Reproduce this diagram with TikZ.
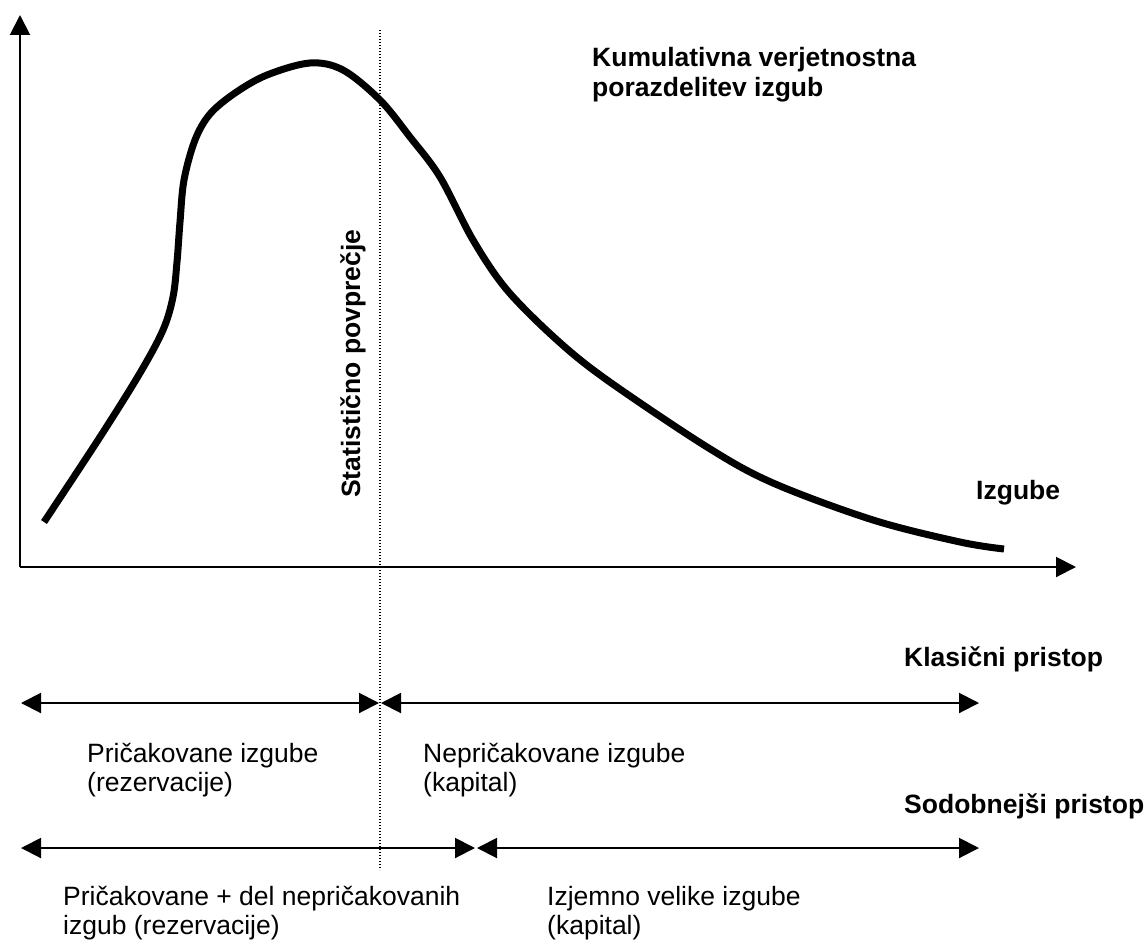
\documentclass[tikz,border=0pt]{standalone}
\usepackage{fontspec}
\setmainfont{Liberation Sans}
\usetikzlibrary{arrows.meta}
\begin{document}
\begin{tikzpicture}[x=1pt,y=-1pt,
  lbl/.style={inner sep=0pt,anchor=base west,align=left,font=\fontsize{26.5}{29.5}\selectfont},
  blbl/.style={lbl,font=\fontsize{26.5}{30}\selectfont\bfseries},
  axis/.style={line width=2pt,-{Triangle[length=20pt,width=20pt]}},
  span/.style={line width=2pt,{Triangle[length=20pt,width=20pt]}-{Triangle[length=20pt,width=20pt]}},
  curve/.style={line width=7pt,line join=round},
  meanline/.style={line width=1.3pt,dash pattern=on 1.2pt off 1.8pt}]
\useasboundingbox (0,0) rectangle (1147,939);
% axes
\coordinate (O) at (20,567);
\coordinate (ytip) at (20,15);
\coordinate (xtip) at (1076,567);
\draw[axis] (O) -- (ytip);
\draw[axis] (O) -- (xtip);
% mean line
\coordinate (mtop) at (380,30);
\coordinate (mbot) at (380,870);
\draw[meanline] (mtop) -- (mbot);
% distribution curve
\draw[curve] plot[smooth,tension=0.55] coordinates {
 (44,522) (100,437) (140,373) (163,330) (173,297) (177,262) (180,222) (184,180)
 (195,140) (210,114) (235,93) (267,75) (310,63) (343,70) (380,100) (410,137)
 (440,177) (473,240) (507,290) (557,340) (607,380) (707,447) (773,483) (873,520)
 (960,542) (1004,549)};
% texts (base anchor of a two-line node = baseline of its last line)
\node[blbl] (title) at (592,97) {Kumulativna verjetnostna\\porazdelitev izgub};
\node[blbl] (izg) at (976,499) {Izgube};
\node[blbl,rotate=90] (mean) at (360,498) {Statistično povprečje};
\node[blbl] (klas) at (904,666) {Klasični pristop};
\node[blbl] (sod) at (904,813) {Sodobnejši pristop};
\node[lbl] (e1) at (87,791.5) {Pričakovane izgube\\(rezervacije)};
\node[lbl] (u1) at (423,791.5) {Nepričakovane izgube\\(kapital)};
\node[lbl] (e2) at (63,934.5) {Pričakovane + del nepričakovanih\\izgub (rezervacije)};
\node[lbl] (u2) at (547,934.5) {Izjemno velike izgube\\(kapital)};
% span arrows
\coordinate (a1) at (21,703);
\coordinate (a2) at (379,703);
\coordinate (a3) at (381,703);
\coordinate (a4) at (979,703);
\coordinate (b1) at (21,848);
\coordinate (b2) at (475,848);
\coordinate (b3) at (477,848);
\coordinate (b4) at (979,848);
\draw[span] (a1) -- (a2);
\draw[span] (a3) -- (a4);
\draw[span] (b1) -- (b2);
\draw[span] (b3) -- (b4);
\end{tikzpicture}
\end{document}
